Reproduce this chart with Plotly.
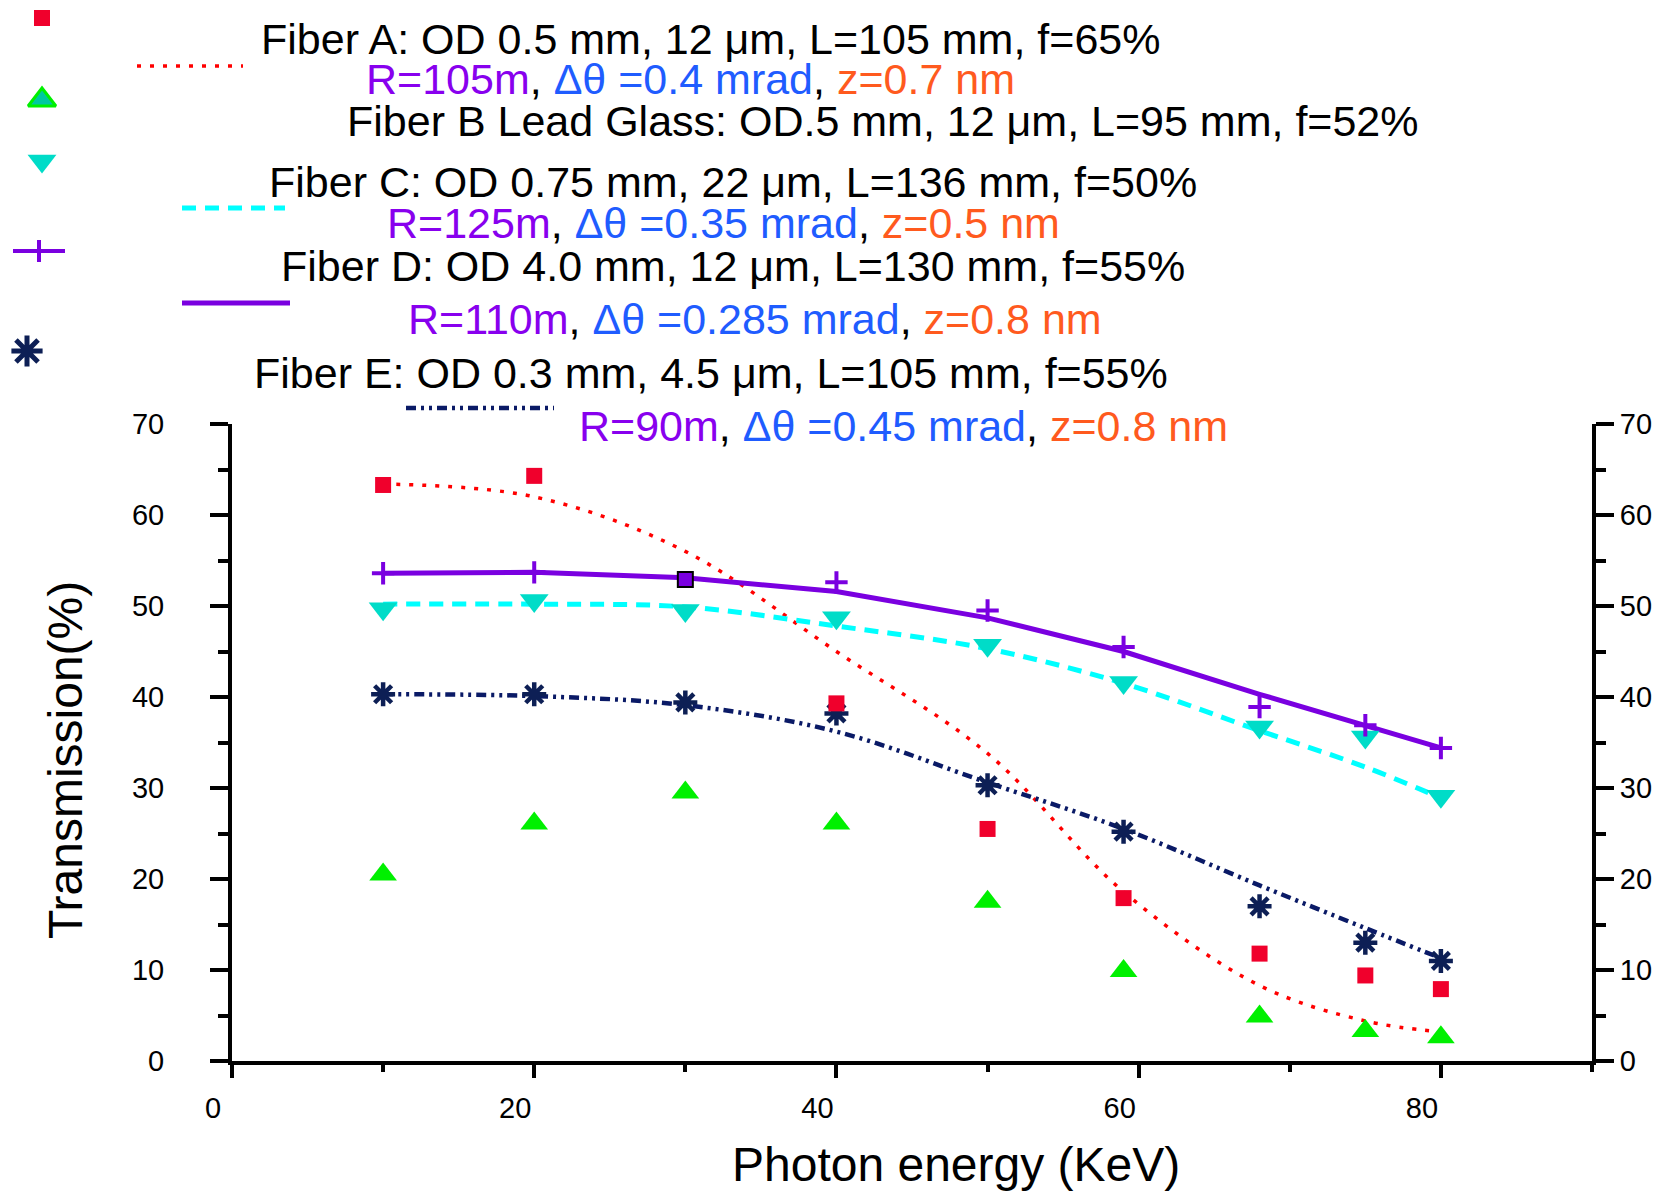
import plotly.graph_objects as go

# ---------------- data ----------------
energy = [10, 20, 30, 40, 50, 59, 68, 75, 80]

fiberA = [63.3, 64.3, None, 39.3, 25.5, 17.9, 11.8, 9.4, 7.9]
fiberA_fit = [63.4, 62.0, 56.0, 45.0, 33.8, 18.6, 8.3, 4.4, 3.2]

fiberB = [20.5, 26.1, 29.5, 26.1, 17.5, 9.9, 4.9, 3.3, 2.6]

fiberC = [49.7, 50.6, 49.5, 48.7, 45.7, 41.6, 36.7, 35.6, 29.1]
fiberC_fit = [50.2, 50.2, 49.9, 47.8, 45.3, 41.5, 36.3, 32.3, 28.9]

fiberD = [53.6, 53.7, None, 52.6, 49.5, 45.5, 38.9, 36.9, 34.4]
fiberD_fit = [53.6, 53.7, 53.1, 51.6, 48.7, 45.0, 40.3, 36.9, 34.4]
extra_x = [30]
extra_y = [52.9]

fiberE = [40.3, 40.3, 39.4, 38.2, 30.3, 25.2, 17.0, 13.0, 11.0]
fiberE_fit = [40.3, 40.1, 39.1, 36.2, 30.6, 25.5, 19.3, 14.6, 11.3]

y_ticks = [0, 10, 20, 30, 40, 50, 60, 70]
x_ticks = [0, 20, 40, 60, 80]

# ---------------- style ----------------
W, H = 1655, 1191
FONT = "Liberation Sans, Arial, Helvetica, sans-serif"
RED_SQ = "#F0002C"
RED_LINE = "#FF0000"
GREEN = "#00F000"
TEAL = "#00DCC8"
CYAN = "#00FFFF"
PURPLE = "#7A00E0"
NAVY_M = "#0D1F55"
NAVY_L = "#0A1A66"
T_PURPLE = "#8800EE"
T_BLUE = "#1F5CFF"
T_ORANGE = "#FF5A1E"

fig = go.Figure()

# fit curves
fig.add_trace(go.Scatter(x=energy, y=fiberA_fit, mode="lines", line_shape="spline",
                         line=dict(color=RED_LINE, width=3.5, dash="4px,9px")))
fig.add_trace(go.Scatter(x=energy, y=fiberC_fit, mode="lines", line_shape="spline",
                         line=dict(color=CYAN, width=5, dash="14px,9px")))
fig.add_trace(go.Scatter(x=energy, y=fiberD_fit, mode="lines",
                         line=dict(color=PURPLE, width=5)))
fig.add_trace(go.Scatter(x=energy, y=fiberE_fit, mode="lines", line_shape="spline",
                         line=dict(color=NAVY_L, width=4.5, dash="10px,5px,3px,5px,3px,5px")))

# markers
fig.add_trace(go.Scatter(x=energy, y=fiberB, mode="markers",
                         marker=dict(symbol="triangle-up", size=24, color=GREEN)))
fig.add_trace(go.Scatter(x=energy, y=fiberC, mode="markers",
                         marker=dict(symbol="triangle-down", size=25, color=TEAL)))
fig.add_trace(go.Scatter(x=energy, y=fiberE, mode="markers",
                         marker=dict(symbol="asterisk-open", size=20, color=NAVY_M,
                                     line=dict(color=NAVY_M, width=4.5))))
fig.add_trace(go.Scatter(x=energy, y=fiberD, mode="markers",
                         marker=dict(symbol="cross-thin-open", size=16, color=PURPLE,
                                     line=dict(color=PURPLE, width=4))))
fig.add_trace(go.Scatter(x=extra_x, y=extra_y, mode="markers",
                         marker=dict(symbol="square", size=15, color=PURPLE,
                                     line=dict(color="black", width=2))))
fig.add_trace(go.Scatter(x=energy, y=fiberA, mode="markers",
                         marker=dict(symbol="square", size=16, color=RED_SQ)))

# right axis (dummy)
fig.add_trace(go.Scatter(x=[None], y=[None], yaxis="y3", mode="markers"))

# ---------------- legend glyphs on pixel overlay ----------------
def px_trace(xs, ys, **kw):
    fig.add_trace(go.Scatter(x=xs, y=ys, xaxis="x2", yaxis="y2", cliponaxis=False, **kw))

px_trace([42], [18], mode="markers", marker=dict(symbol="square", size=16, color=RED_SQ))
px_trace([137, 243], [66, 66], mode="lines", line=dict(color=RED_LINE, width=3.5, dash="4px,9px"))
px_trace([42], [100], mode="markers",
         marker=dict(symbol="triangle-up", size=24, color="#00C8A0", line=dict(color=GREEN, width=3)))
px_trace([42], [161], mode="markers", marker=dict(symbol="triangle-down", size=25, color=TEAL))
px_trace([182, 285], [208, 208], mode="lines", line=dict(color=CYAN, width=5, dash="14px,9px"))
px_trace([13, 65], [251, 251], mode="lines", line=dict(color=PURPLE, width=4))
px_trace([39, 39], [240, 262], mode="lines", line=dict(color=PURPLE, width=4))
px_trace([182, 290], [303, 303], mode="lines", line=dict(color=PURPLE, width=5))
px_trace([27], [351], mode="markers",
         marker=dict(symbol="asterisk-open", size=26, color=NAVY_M, line=dict(color=NAVY_M, width=5)))
px_trace([406, 554], [408, 408], mode="lines",
         line=dict(color=NAVY_L, width=4.5, dash="10px,5px,3px,5px,3px,5px"))


def rline(r, d, z):
    return (f'<span style="color:{T_PURPLE}">{r}</span>, '
            f'<span style="color:{T_BLUE}">\u0394\u03b8 ={d}</span>, '
            f'<span style="color:{T_ORANGE}">{z}</span>')


legend_lines = [
    (259, 39, "Fiber A: OD 0.5 mm, 12 \u03bcm, L=105 mm, f=65%"),
    (364, 79, rline("R=105m", "0.4 mrad", "z=0.7 nm")),
    (345, 121, "Fiber B Lead Glass: OD.5 mm, 12 \u03bcm, L=95 mm, f=52%"),
    (267, 182, "Fiber C: OD 0.75 mm, 22 \u03bcm, L=136 mm, f=50%"),
    (385, 223, rline("R=125m", "0.35 mrad", "z=0.5 nm")),
    (279, 266, "Fiber D: OD 4.0 mm, 12 \u03bcm, L=130 mm, f=55%"),
    (406, 319, rline("R=110m", "0.285 mrad", "z=0.8 nm")),
    (252, 373, "Fiber E: OD 0.3 mm, 4.5 \u03bcm, L=105 mm, f=55%"),
    (577, 426, rline("R=90m", "0.45 mrad", "z=0.8 nm")),
]
annotations = []
for x, y, t in legend_lines:
    annotations.append(dict(x=x, y=y, xref="x2", yref="y2", text=t, showarrow=False,
                            xanchor="left", yanchor="middle",
                            font=dict(family=FONT, size=43, color="black")))

annotations.append(dict(x=956 / W, y=1 - 1164 / H, xref="paper", yref="paper",
                        xanchor="center", yanchor="middle",
                        text="Photon energy (KeV)", showarrow=False,
                        font=dict(family=FONT, size=48, color="black")))
annotations.append(dict(x=65 / W, y=1 - 760 / H, xref="paper", yref="paper",
                        xanchor="center", yanchor="middle",
                        text="Transmission(%)", showarrow=False, textangle=-90,
                        font=dict(family=FONT, size=48, color="black")))

x_dom = [232 / W, 1592 / W]
y_dom = [1 - 1061 / H, 1 - 424 / H]

yaxis_common = dict(range=[0, 70], tickvals=y_ticks, ticks="outside", ticklen=18, tickwidth=4,
                    tickcolor="black", showline=True, linewidth=4, linecolor="black",
                    showgrid=False, zeroline=False, automargin=False,
                    minor=dict(dtick=5, tick0=0, ticks="outside", ticklen=10, tickwidth=4,
                               tickcolor="black", showgrid=False),
                    tickfont=dict(family=FONT, size=29, color="black"))

fig.update_layout(
    width=W, height=H, margin=dict(l=0, r=0, t=0, b=0, pad=0), autosize=False,
    paper_bgcolor="white", plot_bgcolor="rgba(0,0,0,0)", showlegend=False,
    font=dict(family=FONT, color="black"),
    xaxis=dict(domain=x_dom, range=[0, 90], tickvals=x_ticks, ticks="outside", ticklen=13,
               tickwidth=4, tickcolor="black", showline=True, linewidth=4, linecolor="black",
               showgrid=False, zeroline=False, anchor="y", automargin=False,
               minor=dict(dtick=10, tick0=0, ticks="outside", ticklen=7, tickwidth=4,
                          tickcolor="black", showgrid=False),
               tickfont=dict(family=FONT, size=29, color="black"),
               ticklabelshift=-19, ticklabelstandoff=5),
    yaxis=dict(domain=y_dom, anchor="x", ticklabelstandoff=40, **yaxis_common),
    yaxis3=dict(overlaying="y", side="right", anchor="x", ticklabelstandoff=0, **yaxis_common),
    xaxis2=dict(domain=[0, 1], range=[0, W], visible=False, anchor="y2", fixedrange=True,
                automargin=False),
    yaxis2=dict(domain=[0, 1], range=[H, 0], visible=False, anchor="x2", fixedrange=True,
                automargin=False),
    annotations=annotations,
)

fig.write_html("out.html", config={"displayModeBar": False},
               post_script="document.body.style.margin='0px';document.body.style.overflow='hidden';")
